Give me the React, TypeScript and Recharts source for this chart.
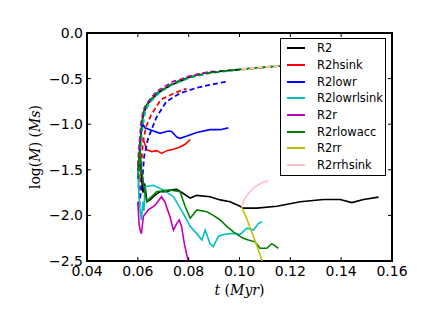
import React from 'react';
import { LineChart, Line, XAxis, YAxis, ReferenceArea, Legend } from 'recharts';

type P = { t: number; v: number };
const pts = (arr: number[][]): P[] => arr.map(([t, v]) => ({ t, v }));

// ---- tick labels ----
const X_TICKS = [0.04, 0.06, 0.08, 0.1, 0.12, 0.14, 0.16];
const Y_TICKS = [0, -0.5, -1.0, -1.5, -2.0, -2.5];

// ---- series names / colours ----
const NAMES = ['R2', 'R2hsink', 'R2lowr', 'R2lowrlsink', 'R2r', 'R2rlowacc', 'R2rr', 'R2rrhsink'];
const COLORS = ['#000000', '#ff0000', '#0000ff', '#00bfbf', '#bf00bf', '#008000', '#bfbf00', '#ffc0cb'];

// ---- solid lines (sink mass) ----
const R2 = pts([[0.0601,-1.5],[0.0607,-1.4],[0.0613,-1.55],[0.062,-1.75],[0.0627,-1.65],[0.0636,-1.85],[0.0648,-1.83],[0.0667,-1.78],[0.0687,-1.74],[0.0714,-1.74],[0.0735,-1.72],[0.0753,-1.715],[0.0779,-1.76],[0.0806,-1.81],[0.0832,-1.78],[0.0884,-1.795],[0.0924,-1.83],[0.0963,-1.85],[0.1002,-1.9],[0.1015,-1.92],[0.1068,-1.92],[0.1147,-1.9],[0.1239,-1.85],[0.133,-1.825],[0.1396,-1.825],[0.1442,-1.86],[0.1488,-1.825],[0.1547,-1.8]]);
const R2hsink = pts([[0.06,-1.55],[0.0605,-1.35],[0.0612,-1.15],[0.0622,-1.17],[0.0635,-1.28],[0.0655,-1.3],[0.0674,-1.29],[0.0694,-1.32],[0.0714,-1.29],[0.074,-1.275],[0.0766,-1.25],[0.0786,-1.22],[0.0806,-1.17]]);
const R2lowr = pts([[0.06,-1.6],[0.0604,-1.4],[0.0609,-1.2],[0.0614,-1.05],[0.0622,-1.01],[0.0628,-1.04],[0.0648,-1.06],[0.0687,-1.1],[0.072,-1.075],[0.0733,-1.08],[0.0753,-1.14],[0.0766,-1.155],[0.0793,-1.13],[0.0832,-1.09],[0.0884,-1.06],[0.0924,-1.06],[0.0956,-1.04]]);
const R2lowrlsink = pts([[0.06,-1.5],[0.0604,-1.75],[0.0609,-1.94],[0.0614,-2.05],[0.062,-1.85],[0.0624,-1.95],[0.0628,-1.685],[0.0661,-1.67],[0.07,-1.72],[0.074,-1.795],[0.0779,-1.98],[0.0806,-2.12],[0.0832,-2.2],[0.0852,-2.27],[0.0865,-2.16],[0.0884,-2.31],[0.0897,-2.34],[0.0917,-2.23],[0.0937,-2.21],[0.0963,-2.2],[0.0989,-2.2],[0.1002,-2.21],[0.1029,-2.14],[0.1055,-2.16],[0.1074,-2.09],[0.1088,-2.07]]);
const R2r = pts([[0.06,-1.85],[0.0605,-2.1],[0.0609,-2.16],[0.0614,-2.2],[0.0622,-2.01],[0.0641,-1.94],[0.0667,-1.89],[0.0693,-1.795],[0.0706,-1.85],[0.0726,-2.01],[0.074,-2.16],[0.0753,-2.09],[0.0763,-2.05],[0.0772,-2.12],[0.0783,-2.31],[0.0798,-2.5],[0.0802,-2.55]]);
const R2rlowacc = pts([[0.0601,-1.45],[0.0608,-1.3],[0.0615,-1.5],[0.0625,-1.7],[0.0635,-1.85],[0.0641,-1.83],[0.0674,-1.74],[0.0726,-1.72],[0.0766,-1.74],[0.0786,-1.9],[0.0806,-2.03],[0.0832,-1.94],[0.0872,-1.96],[0.0897,-2.0],[0.0924,-2.05],[0.095,-2.12],[0.0976,-2.18],[0.1002,-2.23],[0.1015,-2.25],[0.1035,-2.27],[0.1061,-2.29],[0.1081,-2.36],[0.1107,-2.36],[0.1127,-2.31],[0.1153,-2.36]]);
const R2rr = pts([[0.1009,-1.91],[0.1029,-2.04],[0.1048,-2.18],[0.1068,-2.33],[0.1088,-2.49],[0.109,-2.52]]);
const R2rrhsink = pts([[0.1009,-1.91],[0.1018,-1.83],[0.1035,-1.76],[0.1061,-1.685],[0.109,-1.64],[0.1114,-1.62]]);

// ---- dashed lines (total mass) ----
const R2_d = pts([[0.0601,-1.55],[0.0607,-1.3],[0.0613,-1.05],[0.0622,-0.88],[0.0641,-0.77],[0.0674,-0.67],[0.0699,-0.62],[0.0739,-0.56],[0.0766,-0.53],[0.0806,-0.48],[0.0832,-0.46],[0.0876,-0.43],[0.0963,-0.41],[0.1029,-0.395],[0.112,-0.37],[0.117,-0.36]]);
const R2hsink_d = pts([[0.0603,-1.9],[0.0612,-1.5],[0.062,-1.2],[0.0632,-1.03],[0.0652,-0.9],[0.0691,-0.73],[0.0743,-0.66],[0.0791,-0.61]]);
const R2lowr_d = pts([[0.0605,-1.9],[0.0618,-1.6],[0.0625,-1.35],[0.0641,-1.15],[0.0674,-0.92],[0.0713,-0.75],[0.0766,-0.66],[0.0832,-0.6],[0.0898,-0.56],[0.0956,-0.53]]);
const R2lowrlsink_d = pts([[0.0602,-1.7],[0.061,-1.3],[0.0618,-1.05],[0.063,-0.85],[0.0648,-0.76],[0.0687,-0.65],[0.074,-0.56],[0.0806,-0.49],[0.0884,-0.44],[0.0963,-0.415],[0.1002,-0.4]]);
const R2r_d = pts([[0.06,-1.45],[0.0606,-1.2],[0.0613,-0.98],[0.0622,-0.84],[0.0641,-0.75],[0.0674,-0.64],[0.0699,-0.6],[0.0739,-0.53],[0.0766,-0.51],[0.0806,-0.47],[0.0832,-0.455],[0.0876,-0.43],[0.0896,-0.42]]);
const R2rlowacc_d = pts([[0.0602,-1.6],[0.0608,-1.3],[0.0615,-1.0],[0.0625,-0.83],[0.0641,-0.76],[0.0674,-0.66],[0.0739,-0.55],[0.0806,-0.48],[0.0876,-0.44],[0.0963,-0.41],[0.1029,-0.39],[0.112,-0.37],[0.117,-0.36]]);
const R2rr_d = pts([[0.1009,-0.4],[0.105,-0.39],[0.11,-0.375],[0.117,-0.36]]);
const R2rrhsink_d = pts([[0.1009,-0.395],[0.105,-0.385],[0.11,-0.372],[0.117,-0.358]]);

const SOLID = [R2, R2hsink, R2lowr, R2lowrlsink, R2r, R2rlowacc, R2rr, R2rrhsink];
const DASHED = [R2_d, R2hsink_d, R2lowr_d, R2lowrlsink_d, R2r_d, R2rlowacc_d, R2rr_d, R2rrhsink_d];

// ---- layout ----
const W = 436;
const H = 327;
const YAXIS_W = 87;
const XAXIS_H = 66;
const M_TOP = 33;
const M_RIGHT = 44;
const PLOT_TOP = M_TOP;
const PLOT_BOTTOM = H - XAXIS_H;
const PLOT_LEFT = YAXIS_W;
const PLOT_RIGHT = W - M_RIGHT;
const TICK = 4;
const SANS = '"DejaVu Sans", sans-serif';
const SERIF = '"DejaVu Serif", serif';

const fmtY = (v: number) => (v < 0 ? '\u2212' + Math.abs(v).toFixed(1) : v.toFixed(1));

const XTick = (props: any) => {
  const { x, payload } = props;
  const v = payload.value as number;
  const edge = Math.abs(v - 0.04) < 1e-9 || Math.abs(v - 0.16) < 1e-9;
  return (
    <g>
      {!edge && <line x1={x} x2={x} y1={PLOT_BOTTOM} y2={PLOT_BOTTOM - TICK} stroke="#000" strokeWidth={1} />}
      {!edge && <line x1={x} x2={x} y1={PLOT_TOP} y2={PLOT_TOP + TICK} stroke="#000" strokeWidth={1} />}
      <text x={x} y={PLOT_BOTTOM + 15} textAnchor="middle" fontFamily={SANS} fontSize={14} fill="#000">
        {v.toFixed(2)}
      </text>
    </g>
  );
};

const YTick = (props: any) => {
  const { y, payload } = props;
  const v = payload.value as number;
  const edge = Math.abs(v) < 1e-9 || Math.abs(v + 2.5) < 1e-9;
  return (
    <g>
      {!edge && <line x1={PLOT_LEFT} x2={PLOT_LEFT + TICK} y1={y} y2={y} stroke="#000" strokeWidth={1} />}
      {!edge && <line x1={PLOT_RIGHT} x2={PLOT_RIGHT - TICK} y1={y} y2={y} stroke="#000" strokeWidth={1} />}
      <text x={PLOT_LEFT - 4} y={y + 5} textAnchor="end" fontFamily={SANS} fontSize={14} fill="#000">
        {fmtY(v)}
      </text>
    </g>
  );
};

const LegendBox = () => (
  <div
    style={{
      background: '#fff',
      border: '1px solid #000',
      width: 104,
      height: 135,
      boxSizing: 'content-box',
      paddingTop: 1,
      fontFamily: SANS,
      fontSize: 11.5,
      color: '#000',
    }}
  >
    {NAMES.map((n, i) => (
      <div key={n} style={{ display: 'flex', alignItems: 'center', height: 16.7 }}>
        <div style={{ width: 18, height: 2, background: COLORS[i], marginLeft: 6, marginRight: 12 }} />
        <span style={{ lineHeight: '16px' }}>{n}</span>
      </div>
    ))}
  </div>
);

export default function App() {
  return (
    <div style={{ position: 'absolute', left: 0, top: 0, width: W, height: H, background: '#fff' }}>
      <LineChart width={W} height={H} margin={{ top: M_TOP, right: M_RIGHT, bottom: 0, left: 0 }}>
        <XAxis
          type="number"
          dataKey="t"
          domain={[0.04, 0.16]}
          ticks={X_TICKS}
          allowDataOverflow
          height={XAXIS_H}
          tickLine={false}
          axisLine={false}
          tick={<XTick />}
          interval={0}
        />
        <YAxis
          type="number"
          dataKey="v"
          domain={[-2.5, 0]}
          ticks={Y_TICKS}
          allowDataOverflow
          width={YAXIS_W}
          tickLine={false}
          axisLine={false}
          tick={<YTick />}
          interval={0}
        />
        {NAMES.map((n, i) => [
          <Line
            key={n + '_s'}
            data={SOLID[i]}
            dataKey="v"
            name={n}
            stroke={COLORS[i]}
            strokeWidth={1.6}
            dot={false}
            activeDot={false}
            isAnimationActive={false}
          />,
          <Line
            key={n + '_d'}
            data={DASHED[i]}
            dataKey="v"
            name={n + ' total'}
            stroke={COLORS[i]}
            strokeWidth={1.8}
            strokeDasharray="5 3"
            dot={false}
            activeDot={false}
            legendType="none"
            isAnimationActive={false}
          />,
        ])}
        <ReferenceArea
          x1={0.04}
          x2={0.16}
          y1={-2.5}
          y2={0}
          stroke="#000"
          strokeWidth={2}
          fill="none"
          fillOpacity={0}
        />
        <Legend
          layout="vertical"
          align="center"
          verticalAlign="middle"
          content={<LegendBox />}
          wrapperStyle={{ left: 280, top: 38, width: 106 }}
        />
        <text x={(PLOT_LEFT + PLOT_RIGHT) / 2} y={295} textAnchor="middle" fontFamily={SERIF} fontSize={14} fill="#000">
          <tspan fontStyle="italic">t</tspan>
          <tspan> (</tspan>
          <tspan fontStyle="italic">Myr</tspan>
          <tspan>)</tspan>
        </text>
        <text
          x={0}
          y={0}
          transform={`translate(40, ${(PLOT_TOP + PLOT_BOTTOM) / 2}) rotate(-90)`}
          textAnchor="middle"
          fontFamily={SERIF}
          fontSize={14}
          fill="#000"
        >
          <tspan>log(</tspan>
          <tspan fontStyle="italic">M</tspan>
          <tspan>) (</tspan>
          <tspan fontStyle="italic">Ms</tspan>
          <tspan>)</tspan>
        </text>
      </LineChart>
    </div>
  );
}
